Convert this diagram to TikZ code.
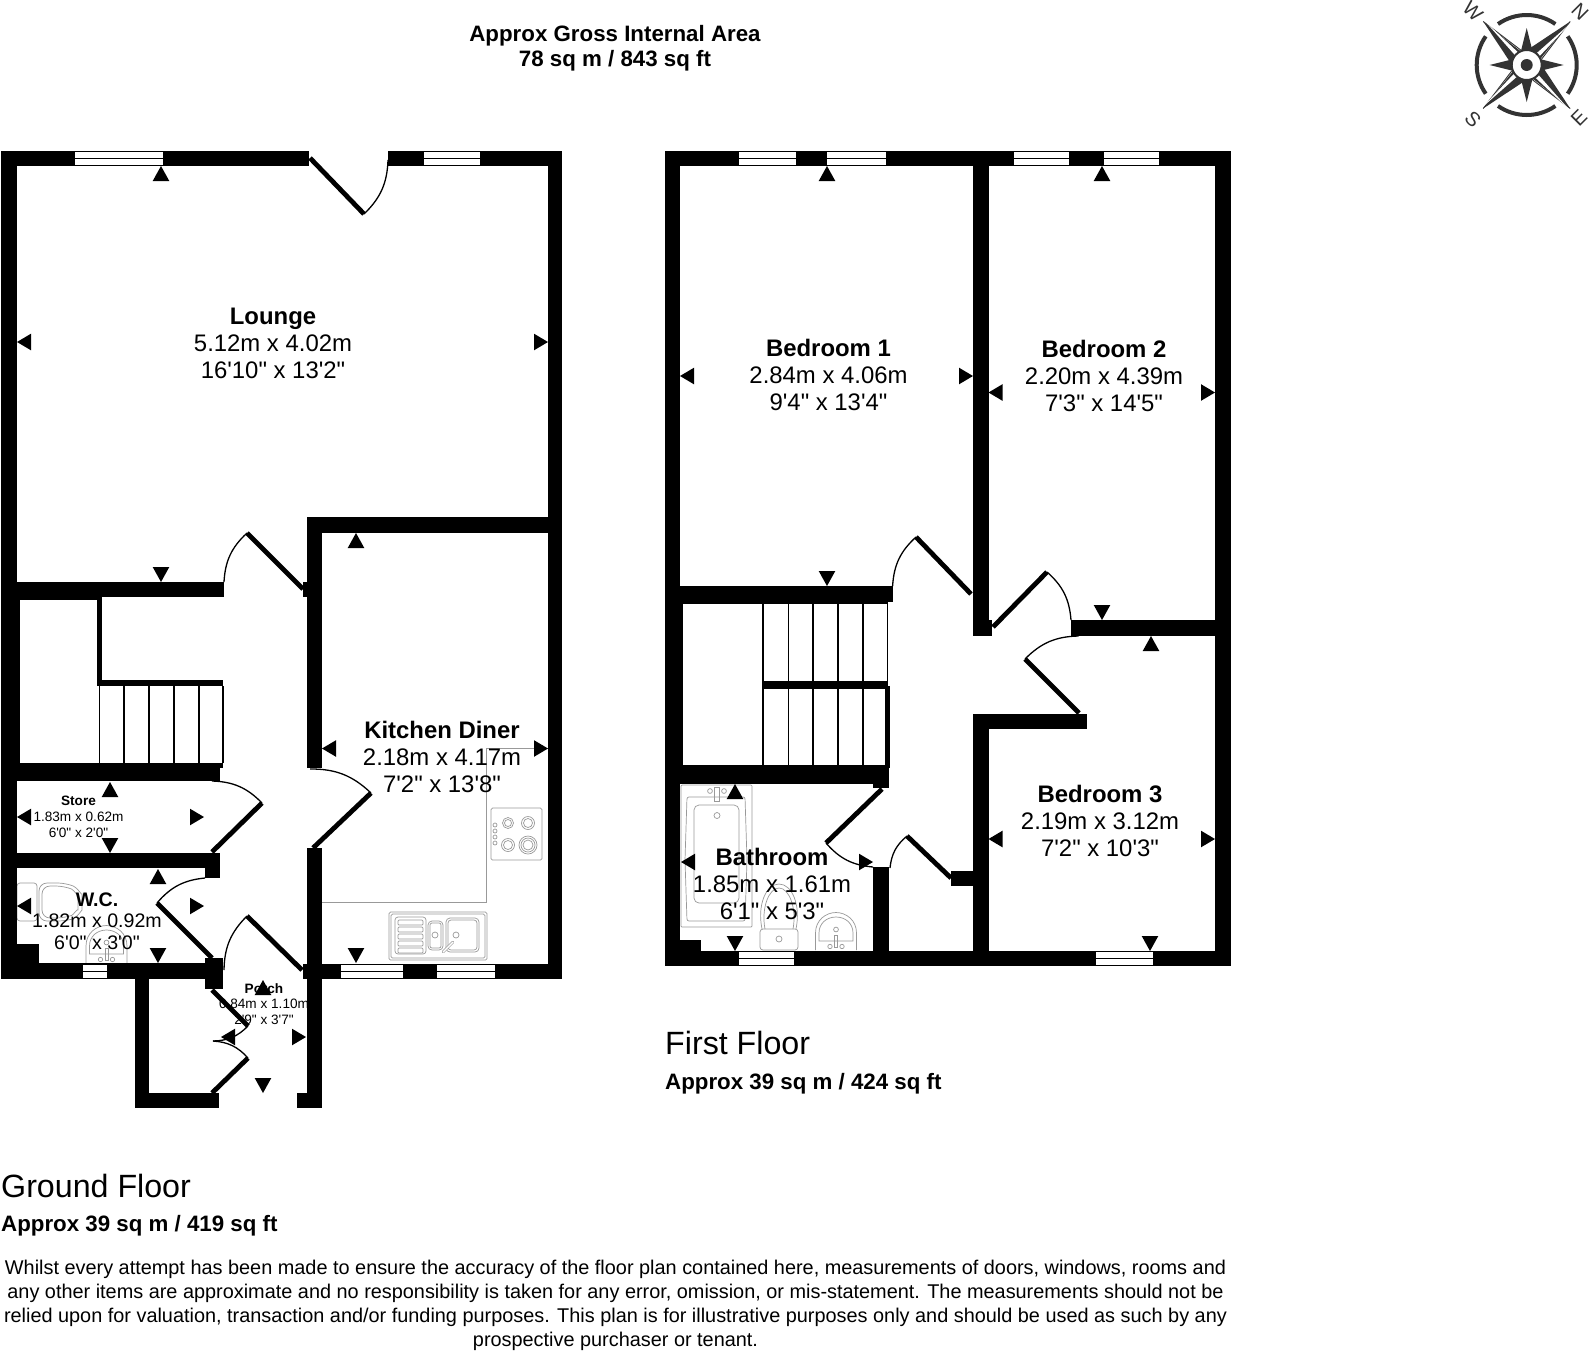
\documentclass[tikz,border=0pt]{standalone}
\usepackage{fontspec}
\newfontfamily\planfont{Liberation Sans}
\definecolor{fix}{gray}{0.6}
\definecolor{cmp}{HTML}{333333}
\tikzset{
  wallfill/.style={fill=black},
  leaf/.style={draw=black,line width=4.8pt},
  swing/.style={draw=black,line width=1.3pt},
  stairline/.style={draw=black,line width=1.6pt},
  fixture/.style={draw=fix,line width=0.7pt},
  labelbig/.style={font=\planfont\fontsize{23.9}{27}\selectfont,align=center,inner sep=0},
  labelmid/.style={font=\planfont\fontsize{19.6}{21.5}\selectfont,align=center,inner sep=0},
  labelsmall/.style={font=\planfont\fontsize{13.6}{15.7}\selectfont,align=center,inner sep=0},
  titlebold/.style={font=\planfont\bfseries\fontsize{22.3}{25.2}\selectfont,align=center,inner sep=0},
  floorname/.style={font=\planfont\fontsize{32.2}{34}\selectfont,anchor=west,inner sep=0},
  floorarea/.style={font=\planfont\bfseries\fontsize{22.3}{24}\selectfont,anchor=west,inner sep=0},
  disclaimer/.style={font=\planfont\fontsize{19.88}{23.9}\selectfont,align=center,inner sep=0},
  compassletter/.style={font=\planfont\fontsize{20}{20}\selectfont,text=cmp,inner sep=0}
}
\newcommand\wallbox[4]{\fill[wallfill] (#1,#2) rectangle (#3,#4);}
\newcommand\winh[4]{\fill[white] (#1,#3) rectangle (#2,#4);\draw[black,line width=1.4pt] (#1,{(#3+#4)/2}) -- (#2,{(#3+#4)/2});}
\newcommand\ArrUp[2]{\fill[black] (#1,#2) -- (#1+8.3,#2+15) -- (#1-8.3,#2+15) -- cycle;}
\newcommand\ArrDn[2]{\fill[black] (#1,#2) -- (#1+8.3,#2-15) -- (#1-8.3,#2-15) -- cycle;}
\newcommand\ArrLf[2]{\fill[black] (#1,#2) -- (#1+14,#2-8.3) -- (#1+14,#2+8.3) -- cycle;}
\newcommand\ArrRt[2]{\fill[black] (#1,#2) -- (#1-14,#2-8.3) -- (#1-14,#2+8.3) -- cycle;}
\newcommand\basinfix[2]{\begin{scope}[shift={(#1,#2)}]
 \draw[fixture] (-20.5,0) -- (-20.5,-17) .. controls (-20.5,-30) and (-10,-37.5) .. (0,-37.5) .. controls (10,-37.5) and (20.5,-30) .. (20.5,-17) -- (20.5,0);
 \draw[fixture] (-17,-9) -- (-17,-17) .. controls (-17,-27) and (-9,-33) .. (0,-33) .. controls (9,-33) and (17,-27) .. (17,-17) -- (17,-9) -- cycle;
 \draw[fixture] (0,-20.5) circle[radius=2.4];
 \draw[fixture] (-1.5,-15) rectangle (1.5,-3);
 \draw[fixture] (-6,-3.5) circle[radius=2.2] (6,-3.5) circle[radius=2.2];
\end{scope}}
\begin{document}
\begin{tikzpicture}[x=1pt,y=-1pt]
\useasboundingbox (0,0) rectangle (1590,1350);
\fill[white] (0,0) rectangle (1590,1350);
%%% fixtures: kitchen
\draw[fixture] (322,902) -- (486,902) -- (486,748) -- (548,748);
\draw[fixture,rounded corners=1.5pt] (491,808) rectangle (542,860);
\foreach \yy in {825,831,837,843}{\draw[fixture] (495,\yy) circle[radius=2];}
\draw[fixture] (508,823) circle[radius=5.5] (508,823) circle[radius=3.5];
\draw[fixture] (528,823) circle[radius=6.5] (528,823) circle[radius=4.5];
\draw[fixture] (508,845) circle[radius=6.5] (508,845) circle[radius=4.5];
\draw[fixture] (528,845) circle[radius=9] (528,845) circle[radius=7] (528,845) circle[radius=5];
\draw[fixture,rounded corners=1.5pt] (389,912) rectangle (487,960);
\draw[fixture,rounded corners=1.5pt] (391,914) rectangle (485,958);
\draw[fixture,rounded corners=3pt] (395,917) rectangle (426,954);
\foreach \yy in {920,927,934,941,948}{\draw[fixture,rounded corners=1pt] (398,\yy) rectangle (423,\yy+5);}
\draw[fixture,rounded corners=4pt] (428,921) rectangle (443,950);
\draw[fixture,rounded corners=2pt] (430,923) rectangle (441,948);
\draw[fixture,rounded corners=4pt] (446,918) rectangle (479,952);
\draw[fixture,rounded corners=3pt] (448,920) rectangle (477,950);
\draw[fixture] (435,935) circle[radius=3] (456,935) circle[radius=3];
\draw[fixture,line width=2.6pt,line cap=round] (443,952) -- (453,942);
\draw[white,line width=1.4pt,line cap=round] (443,952) -- (453,942);
%%% fixtures: wc
\draw[fixture,rounded corners=3pt] (17,883) rectangle (37,921);
\draw[fixture,rounded corners=8pt] (39,883) -- (66,883) .. controls (78,888) and (82,896) .. (82,902) .. controls (82,910) and (76,918) .. (66,921) -- (39,921) -- cycle;
\draw[fixture,rounded corners=8pt] (42,886) -- (64,886) .. controls (74,890) and (78,897) .. (78,902) .. controls (78,908) and (73,915) .. (64,918) -- (42,918) -- cycle;
\basinfix{106.5}{963}
%%% fixtures: bathroom
\draw[fixture,rounded corners=1pt] (681,785) rectangle (752,927);
\draw[fixture,rounded corners=2pt] (687,797) -- (745,797) -- (747,860) -- (745,921) -- (687,921) -- (685,860) -- cycle;
\draw[fixture,rounded corners=5pt] (694,805) rectangle (739,903);
\draw[fixture] (717,815.5) circle[radius=3];
\draw[fixture] (714.5,787) rectangle (719,801);
\draw[fixture] (710,791) circle[radius=2.4] (724,791) circle[radius=2.4];
\draw[fixture,rounded corners=3pt] (760,929) rectangle (798,950);
\draw[fixture] (779,939) circle[radius=3];
\draw[fixture] (762,929) .. controls (757,905) and (766,884) .. (779,884) .. controls (792,884) and (801,905) .. (796,929);
\draw[fixture] (765,929) .. controls (761,908) and (769,888) .. (779,888) .. controls (789,888) and (797,908) .. (793,929);
\basinfix{836}{950}
%%% labels
\node[titlebold] (gia) at (615,48.5) {Approx Gross Internal Area\\78 sq m / 843 sq ft};
\node[labelbig] (lounge) at (273,343) {\textbf{Lounge}\\5.12m x 4.02m\\16'10" x 13'2"};
\node[labelbig] (kitchen) at (442,757) {\textbf{Kitchen Diner}\\2.18m x 4.17m\\7'2" x 13'8"};
\node[labelsmall] (store) at (78.5,817) {\textbf{Store}\\1.83m x 0.62m\\6'0" x 2'0"};
\node[labelmid] (wc) at (97,921) {\textbf{W.C.}\\1.82m x 0.92m\\6'0" x 3'0"};
\node[labelsmall] (porch) at (264,1004) {\textbf{Porch}\\0.84m x 1.10m\\2'9" x 3'7"};
\node[labelbig] (bed1) at (828.5,374.5) {\textbf{Bedroom 1}\\2.84m x 4.06m\\9'4" x 13'4"};
\node[labelbig] (bed2) at (1104,376) {\textbf{Bedroom 2}\\2.20m x 4.39m\\7'3" x 14'5"};
\node[labelbig] (bed3) at (1100,820.5) {\textbf{Bedroom 3}\\2.19m x 3.12m\\7'2" x 10'3"};
\node[labelbig] (bath) at (772,883.5) {\textbf{Bathroom}\\1.85m x 1.61m\\6'1" x 5'3"};
\node[floorname] (gf) at (1,1185.5) {Ground Floor};
\node[floorarea] (gfa) at (1,1226) {Approx 39 sq m / 419 sq ft};
\node[floorname] (ff) at (665,1043) {First Floor};
\node[floorarea] (ffa) at (665,1084) {Approx 39 sq m / 424 sq ft};
\node[disclaimer] (note) at (615.5,1305) {Whilst every attempt has been made to ensure the accuracy of the floor plan contained here, measurements of doors, windows, rooms and\\any other items are approximate and no responsibility is taken for any error, omission, or mis-statement. The measurements should not be\\relied upon for valuation, transaction and/or funding purposes. This plan is for illustrative purposes only and should be used as such by any\\prospective purchaser or tenant.};
%%% ground floor walls
\wallbox{1}{151}{309}{166}
\wallbox{388}{151}{562}{166}
\wallbox{1}{151}{16.5}{979}
\wallbox{1}{582}{19.5}{763}
\wallbox{548}{151}{562}{979}
\wallbox{1}{582}{224}{597}
\wallbox{16}{597}{97}{600}
\wallbox{97}{597}{102}{686}
\wallbox{97}{680}{223}{686}
\wallbox{307}{517}{562}{533}
\wallbox{307}{517}{322}{768}
\wallbox{303}{582}{307}{597}
\wallbox{307}{848}{322}{1108}
\wallbox{297}{1093}{322}{1108}
\wallbox{1}{763}{212}{781}
\wallbox{212}{768}{220}{781}
\wallbox{212}{763}{223}{768}
\wallbox{1}{853}{220}{868}
\wallbox{205}{853}{220}{878}
\wallbox{1}{963}{223}{979}
\wallbox{16}{944}{39}{963}
\wallbox{205}{958}{223}{989}
\wallbox{303}{964}{562}{979}
\wallbox{135}{979}{149}{1108}
\wallbox{135}{1093}{219}{1108}
\foreach \xx in {99.5,124,149,174,199,223}{\draw[stairline] (\xx,686) -- (\xx,763);}
\winh{75}{162.5}{152}{165}
\winh{424}{480}{152}{165}
\winh{83}{107}{965}{978}
\winh{341}{403}{965}{978}
\winh{437}{495}{965}{978}
%%% ground floor doors
\coordinate (h1) at (310,158); \coordinate (e1) at (364,214); \coordinate (p1) at (388,160);
\draw[leaf] (h1) -- (e1); \draw[swing] (e1) to[bend right=22] (p1);
\coordinate (h2) at (303,589); \coordinate (e2) at (247,533); \coordinate (p2) at (224,582);
\draw[leaf] (h2) -- (e2); \draw[swing] (e2) to[bend right=22] (p2);
\coordinate (h3) at (212,852); \coordinate (e3) at (262,803); \coordinate (p3) at (212,781);
\draw[leaf] (h3) -- (e3); \draw[swing] (e3) to[bend right=22] (p3);
\coordinate (h4) at (212,958); \coordinate (e4) at (157,903); \coordinate (p4) at (205,878);
\draw[leaf] (h4) -- (e4); \draw[swing] (e4) to[bend left=22] (p4);
\coordinate (h5) at (302,970); \coordinate (e5) at (247,916); \coordinate (p5) at (224,970);
\draw[leaf] (h5) -- (e5); \draw[swing] (e5) to[bend right=22] (p5);
\coordinate (h6) at (313,848); \coordinate (e6) at (371,793); \coordinate (p6) at (310,769);
\draw[leaf] (h6) -- (e6); \draw[swing] (e6) to[bend right=22] (p6);
\coordinate (h7) at (212,990); \coordinate (e7) at (248,1026); \coordinate (p7) at (213,1041);
\draw[leaf] (h7) -- (e7); \draw[swing] (e7) to[bend left=22] (p7);
\coordinate (h8) at (212,1093); \coordinate (e8) at (248,1058);
\draw[leaf] (h8) -- (e8); \draw[swing] (e8) to[bend right=22] (p7);
%%% first floor walls
\wallbox{664.5}{151}{1231}{166}
\wallbox{664.5}{151}{680}{966}
\wallbox{664.5}{586}{683}{784}
\wallbox{1215}{151}{1231}{966}
\wallbox{973}{151}{988.5}{636}
\wallbox{973}{620}{992}{636}
\wallbox{664.5}{586}{892.6}{602}
\wallbox{664.5}{602}{888}{604}
\wallbox{763}{681}{888}{689}
\wallbox{885}{686}{890}{768}
\wallbox{664.5}{765}{889}{784}
\wallbox{873}{784}{889}{788}
\wallbox{1071}{620}{1231}{636}
\wallbox{973}{714}{1087}{729}
\wallbox{973}{714}{988.5}{966}
\wallbox{873}{867}{889}{966}
\wallbox{951}{871}{973}{886}
\wallbox{664.5}{951}{1231}{966}
\wallbox{680}{940}{701}{951}
\foreach \xx in {763,788.5,813,838,863,887.5}{\draw[stairline] (\xx,604) -- (\xx,765);}
\winh{739}{795.5}{152}{165}
\winh{827}{885.5}{152}{165}
\winh{1014}{1069}{152}{165}
\winh{1104}{1158.5}{152}{165}
\winh{739}{794}{952}{965}
\winh{1096}{1153}{952}{965}
%%% first floor doors
\coordinate (h9) at (971,594); \coordinate (e9) at (916,537); \coordinate (p9) at (892.6,586);
\draw[leaf] (h9) -- (e9); \draw[swing] (e9) to[bend right=22] (p9);
\coordinate (h10) at (993,627); \coordinate (e10) at (1047,572); \coordinate (p10) at (1071,620);
\draw[leaf] (h10) -- (e10); \draw[swing] (e10) to[bend left=22] (p10);
\coordinate (h11) at (1079,713); \coordinate (e11) at (1025,659); \coordinate (p11) at (1078.5,636);
\draw[leaf] (h11) -- (e11); \draw[swing] (e11) to[bend left=22] (p11);
\coordinate (h12) at (882,789); \coordinate (e12) at (826,843); \coordinate (p12) at (873,867);
\draw[leaf] (h12) -- (e12); \draw[swing] (e12) to[bend right=22] (p12);
\coordinate (h13) at (951,878); \coordinate (e13) at (907,836); \coordinate (p13) at (890,868);
\draw[leaf] (h13) -- (e13); \draw[swing] (e13) to[bend right=22] (p13);
%%% measure marks
\ArrUp{161}{166}\ArrDn{161}{582}\ArrLf{17}{342}\ArrRt{548}{342}
\ArrUp{356}{533}\ArrDn{356}{963}\ArrLf{322}{748.5}\ArrRt{548}{748.5}
\ArrUp{110}{782}\ArrDn{110}{853}\ArrLf{17}{817}\ArrRt{204}{817}
\ArrUp{158}{869}\ArrDn{158}{963}\ArrLf{17}{906}\ArrRt{204}{906}
\ArrUp{263}{980}\ArrDn{263}{1093}\ArrLf{221}{1037}\ArrRt{306}{1037}
\ArrUp{827}{166}\ArrDn{827}{586}\ArrLf{680}{376}\ArrRt{973}{376}
\ArrUp{1102}{166}\ArrDn{1102}{620}\ArrLf{988.5}{392.5}\ArrRt{1215}{392.5}
\ArrUp{1151}{636}\ArrDn{1150}{951}\ArrLf{988.5}{839}\ArrRt{1215}{839}
\ArrUp{735}{784}\ArrDn{735}{951}\ArrLf{681}{862}\ArrRt{873}{862}
%%% compass
\begin{scope}[shift={(1526.7,65)}]
\foreach \a in {0,-90,-180,-270}{
 \begin{scope}[rotate=\a]
  \draw[cmp,line width=4pt] (55:50) arc[start angle=55,end angle=125,radius=50];
  \fill[cmp] (0,-37) -- (6,-13) -- (-6,-13) -- cycle;
  \fill[cmp] (43.5,-43.5) -- (3.5,-17) -- (0,0) -- (12,-4) -- cycle;
  \draw[cmp,line width=0.9pt] (43.5,-43.5) -- (15,-6);
  \fill[white] (43,-41) -- (13,-9) -- (9,-11) -- cycle;
 \end{scope}}
\fill[white,draw=cmp,line width=2pt] (0,0) circle[radius=15];
\fill[cmp] (0,0) circle[radius=6];
\end{scope}
\node[compassletter,rotate=-45] (lw) at (1473,11) {W};
\node[compassletter,rotate=-45] (ln) at (1580,12) {N};
\node[compassletter,rotate=-45] (ls) at (1473,119) {S};
\node[compassletter,rotate=45] (le) at (1579,118) {E};
\end{tikzpicture}
\end{document}
